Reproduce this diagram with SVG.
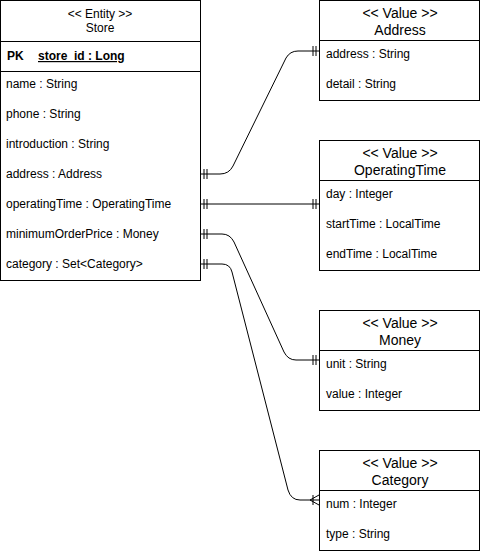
<svg xmlns="http://www.w3.org/2000/svg" width="481" height="554" viewBox="0 0 481 554">
<style>
.box{fill:#fff;stroke:#000;stroke-width:1}
.sep{stroke:#000;stroke-width:1}
text{font-family:"Liberation Sans",Arial,sans-serif;fill:#000}
.t12{font-size:12px}
.t14{font-size:14px}
.h{text-anchor:middle}
.b{font-weight:bold}
.u{text-decoration:underline}
.c{fill:none;stroke:#000;stroke-width:1}
</style>
<rect width="481" height="554" fill="#fff"/>
<g id="connectors">
<path class="c" d="M200,174 H220 Q229,174 233,166 L286,58 Q290,51 298,51 H319"/>
<path class="c" d="M204,169 V179 M207,169 V179 M313,46 V56 M316,46 V56"/>
<path class="c" d="M200,204 H319"/>
<path class="c" d="M204,199 V209 M207,199 V209 M313,199 V209 M316,199 V209"/>
<path class="c" d="M200,234 H222 Q230,234 234,242 L284,352 Q288,360 296,360 H319"/>
<path class="c" d="M204,229 V239 M207,229 V239 M313,355 V365 M316,355 V365"/>
<path class="c" d="M200,264 H222 Q230,264 232,272 L288,490 Q291,500 300,500 H319"/>
<path class="c" d="M204,259 V269 M207,259 V269 M313,495 V505 M310,500 L319,495 M310,500 L319,505"/>
</g>
<g id="store">
<rect class="box" x="0.5" y="0.5" width="200" height="280"/>
<line class="sep" x1="0.5" y1="41.5" x2="200.5" y2="41.5"/>
<line class="sep" x1="0.5" y1="71.5" x2="200.5" y2="71.5"/>
<text class="t12 h" x="100" y="18">&lt;&lt; Entity &gt;&gt;</text>
<text class="t12 h" x="100" y="32">Store</text>
<text class="t12 b" x="7" y="60">PK</text>
<text class="t12 b u" x="38" y="60">store_id : Long</text>
<text class="t12" x="6" y="88">name : String</text>
<text class="t12" x="6" y="118">phone : String</text>
<text class="t12" x="6" y="148">introduction : String</text>
<text class="t12" x="6" y="178">address : Address</text>
<text class="t12" x="6" y="208">operatingTime : OperatingTime</text>
<text class="t12" x="6" y="238">minimumOrderPrice : Money</text>
<text class="t12" x="6" y="268">category : Set&lt;Category&gt;</text>
</g>
<g id="address">
<rect class="box" x="319.5" y="0.5" width="160" height="100"/>
<line class="sep" x1="319.5" y1="40.5" x2="479.5" y2="40.5"/>
<text class="t14 h" x="400" y="18">&lt;&lt; Value &gt;&gt;</text>
<text class="t14 h" x="400" y="35">Address</text>
<text class="t12" x="326" y="58">address : String</text>
<text class="t12" x="326" y="88">detail : String</text>
</g>
<g id="operatingTime">
<rect class="box" x="319.5" y="140.5" width="160" height="130"/>
<line class="sep" x1="319.5" y1="180.5" x2="479.5" y2="180.5"/>
<text class="t14 h" x="400" y="158">&lt;&lt; Value &gt;&gt;</text>
<text class="t14 h" x="400" y="175">OperatingTime</text>
<text class="t12" x="326" y="198">day : Integer</text>
<text class="t12" x="326" y="228">startTime : LocalTime</text>
<text class="t12" x="326" y="258">endTime : LocalTime</text>
</g>
<g id="money">
<rect class="box" x="319.5" y="310.5" width="160" height="100"/>
<line class="sep" x1="319.5" y1="350.5" x2="479.5" y2="350.5"/>
<text class="t14 h" x="400" y="328">&lt;&lt; Value &gt;&gt;</text>
<text class="t14 h" x="400" y="345">Money</text>
<text class="t12" x="326" y="368">unit : String</text>
<text class="t12" x="326" y="398">value : Integer</text>
</g>
<g id="category">
<rect class="box" x="319.5" y="450.5" width="160" height="100"/>
<line class="sep" x1="319.5" y1="490.5" x2="479.5" y2="490.5"/>
<text class="t14 h" x="400" y="468">&lt;&lt; Value &gt;&gt;</text>
<text class="t14 h" x="400" y="485">Category</text>
<text class="t12" x="326" y="508">num : Integer</text>
<text class="t12" x="326" y="538">type : String</text>
</g>
</svg>
